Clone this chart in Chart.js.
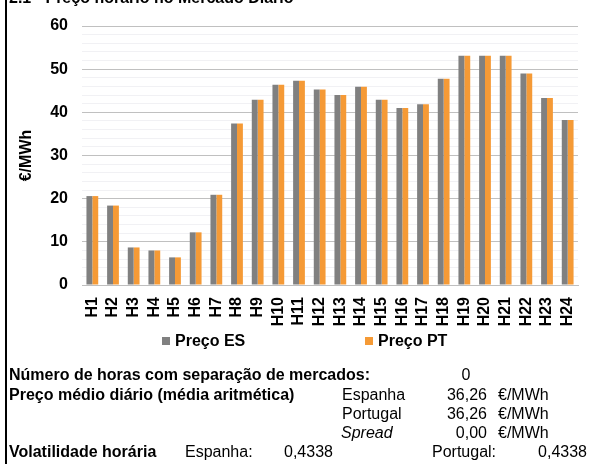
<!DOCTYPE html>
<html>
<head>
<meta charset="utf-8">
<script src="https://cdn.jsdelivr.net/npm/chart.js@4"></script>
<style>
  html, body { margin: 0; padding: 0; background: #fff; }
  #wrap { position: relative; width: 591px; height: 464px; }
</style>
</head>
<body>
<div id="wrap"><canvas id="precoChart" width="591" height="464"></canvas></div>
<script>
const hours = ['H1','H2','H3','H4','H5','H6','H7','H8','H9','H10','H11','H12',
               'H13','H14','H15','H16','H17','H18','H19','H20','H21','H22','H23','H24'];
const precoES = [20.6, 18.4, 8.7, 8.0, 6.4, 12.2, 20.9, 37.4, 42.9, 46.4, 47.3, 45.3,
                 44.0, 45.9, 42.9, 41.0, 41.9, 47.8, 53.1, 53.1, 53.1, 49.0, 43.3, 38.2];
const precoPT = [20.6, 18.4, 8.7, 8.0, 6.4, 12.2, 20.9, 37.4, 42.9, 46.4, 47.3, 45.3,
                 44.0, 45.9, 42.9, 41.0, 41.9, 47.8, 53.1, 53.1, 53.1, 49.0, 43.3, 38.2];
const yTicks = [0, 10, 20, 30, 40, 50, 60];
const seriesNames = ['Preço ES', 'Preço PT'];

const GREY = '#808080';
const ORANGE = '#f59a36';
const FONT = "Arial, 'Liberation Sans', sans-serif";
const FS = 16;

// --- title, frame, legend and the text block under the chart ---
const extrasPlugin = {
    id: 'extras',
    afterDraw(chart) {
        const c = chart.ctx;
        c.save();
        // left frame line
        c.fillStyle = '#000';
        c.fillRect(5, 0, 2, 464);

        // title, mostly cut off at the top
        c.font = 'bold ' + FS + 'px ' + FONT;
        c.textBaseline = 'alphabetic';
        c.textAlign = 'left';
        c.fillText('2.1 - Preço horário no Mercado Diário', 9, 3);

        // legend
        const colors = [GREY, ORANGE];
        const lx = [162, 365];
        seriesNames.forEach((name, i) => {
            c.fillStyle = colors[i];
            c.fillRect(lx[i], 337, 8, 8);
            c.fillStyle = '#000';
            c.fillText(name, lx[i] + 13, 346);
        });

        const put = (txt, x, y, style, align) => {
            c.font = (style || '') + ' ' + FS + 'px ' + FONT;
            c.textAlign = align || 'left';
            c.fillText(txt, x, y);
        };
        c.fillStyle = '#000';
        const r = [379.5, 399.5, 418.5, 437.5, 456.5];
        put('Número de horas com separação de mercados:', 9, r[0], 'bold');
        put('0', 466, r[0], '', 'center');
        put('Preço médio diário (média aritmética)', 9, r[1], 'bold');
        put('Espanha', 342, r[1]);
        put('36,26', 487, r[1], '', 'right');
        put('€/MWh', 498, r[1]);
        put('Portugal', 342, r[2]);
        put('36,26', 487, r[2], '', 'right');
        put('€/MWh', 498, r[2]);
        put('Spread', 341, r[3], 'italic');
        put('0,00', 487, r[3], '', 'right');
        put('€/MWh', 498, r[3]);
        put('Volatilidade horária', 9, r[4], 'bold');
        put('Espanha:', 185, r[4]);
        put('0,4338', 284, r[4]);
        put('Portugal:', 432, r[4]);
        put('0,4338', 587, r[4], '', 'right');
        c.restore();
    }
};

const ctx = document.getElementById('precoChart');
new Chart(ctx, {
    type: 'bar',
    data: {
        labels: hours,
        datasets: [
            { label: seriesNames[0], data: precoES, backgroundColor: GREY },
            { label: seriesNames[1], data: precoPT, backgroundColor: ORANGE }
        ]
    },
    options: {
        responsive: false,
        animation: false,
        devicePixelRatio: 1,
        categoryPercentage: 0.57,
        barPercentage: 1.0,
        layout: { padding: { left: 8, top: 26, right: 6, bottom: 134 } },
        plugins: {
            legend: { display: false },
            tooltip: { enabled: false }
        },
        scales: {
            x: {
                grid: { display: false },
                border: { color: '#bfbfbf', width: 1 },
                ticks: {
                    color: '#000',
                    font: { family: FONT, size: FS, weight: 'bold' },
                    minRotation: 90,
                    maxRotation: 90,
                    padding: 4,
                    autoSkip: false
                },
                afterFit: (axis) => { axis.height = 45; }
            },
            y: {
                min: 0,
                max: 60,
                border: { display: false },
                grid: {
                    drawTicks: false,
                    color: (c) => yTicks.includes(c.tick.value) ? '#c0c0c0' : '#f1f1f4',
                    lineWidth: 1
                },
                ticks: {
                    stepSize: 2,
                    autoSkip: false,
                    padding: 14,
                    color: '#000',
                    font: { family: FONT, size: FS, weight: 'bold' },
                    callback: (v) => yTicks.includes(v) ? v : ''
                },
                title: {
                    display: true,
                    text: '€/MWh',
                    color: '#000',
                    font: { family: FONT, size: FS, weight: 'bold' },
                    padding: { top: 9, bottom: 0 }
                },
                afterFit: (axis) => { axis.width = 74; }
            }
        }
    },
    plugins: [extrasPlugin]
});
</script>
</body>
</html>
